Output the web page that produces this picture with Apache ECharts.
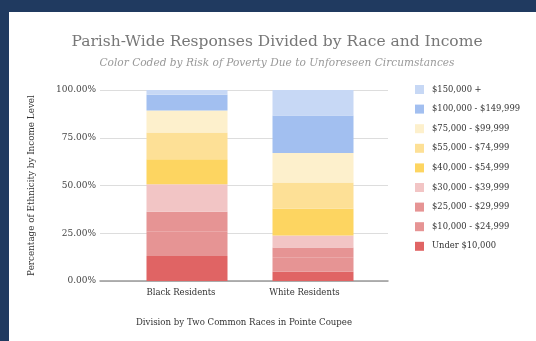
<!DOCTYPE html>
<html><head><meta charset="utf-8">
<script src="https://cdn.jsdelivr.net/npm/echarts@6/dist/echarts.min.js"></script>
<style>
html,body{margin:0;padding:0;background:#203a60;}
#panel{position:absolute;left:9px;top:12px;width:527px;height:329px;background:#fff;}
#chart{position:absolute;left:0;top:0;width:536px;height:341px;}
</style></head>
<body><div id="panel"></div><div id="chart"></div>
<script>
var categories = ['Black Residents', 'White Residents'];
var incomeLevels = ['Under $10,000', '$10,000 - $24,999', '$25,000 - $29,999', '$30,000 - $39,999', '$40,000 - $54,999', '$55,000 - $74,999', '$75,000 - $99,999', '$100,000 - $149,999', '$150,000 +'];
var blackValues = [13.1, 13.0, 10.1, 14.4, 13.2, 14.0, 11.5, 8.2, 2.5];
var whiteValues = [4.9, 7.3, 5.3, 6.3, 14.0, 13.8, 15.4, 19.6, 13.4];
var colors = ['#e06464', '#e69494', '#e69494', '#f2c5c5', '#fdd561', '#fde096', '#fdf0cc', '#a2bff0', '#c7d8f5'];
var yTicks = [0, 25, 50, 75, 100];

var serif = 'DejaVu Serif';
var chart = echarts.init(document.getElementById('chart'));
var series = incomeLevels.map(function (name, i) {
  return {
    name: name, type: 'bar', stack: 'total', xAxisIndex: 1, yAxisIndex: 1,
    barWidth: 81, itemStyle: {color: colors[i]},
    data: [blackValues[i], whiteValues[i]]
  };
});
chart.setOption({
  animation: false,
  title: {
    text: 'Parish-Wide Responses Divided by Race and Income',
    subtext: 'Color Coded by Risk of Poverty Due to Unforeseen Circumstances',
    left: 272, textAlign: 'center', top: 29, itemGap: 8,
    textStyle: {fontFamily: serif, fontSize: 15.5, fontWeight: 'normal', color: '#777'},
    subtextStyle: {fontFamily: serif, fontSize: 10.6, fontStyle: 'italic', color: '#999'}
  },
  legend: {
    orient: 'vertical', left: 415, top: 85, padding: 0, itemWidth: 9, itemHeight: 9, itemGap: 10.6,
    icon: 'rect',
    data: incomeLevels.slice().reverse(),
    textStyle: {fontFamily: serif, fontSize: 8.4, color: '#333', padding: [0, 0, 0, 3]}
  },
  grid: [
    {left: 100, right: 148, top: 90, bottom: 60},
    {left: 124, right: 160, top: 90, bottom: 60}
  ],
  xAxis: [
    {gridIndex: 0, type: 'category', data: categories,
      axisLine: {lineStyle: {color: '#999', width: 1.5}}, axisTick: {show: false}, axisLabel: {show: false},
      name: 'Division by Two Common Races in Pointe Coupee', nameLocation: 'middle', nameGap: 37,
      nameTextStyle: {fontFamily: serif, fontSize: 8.6, color: '#333'}},
    {gridIndex: 1, type: 'category', data: categories,
      axisLine: {show: false}, axisTick: {show: false},
      axisLabel: {fontFamily: serif, fontSize: 8.5, color: '#333', margin: 7,
        formatter: function (v, i) { return i === 0 ? '{a|' + v + '}' : '{b|' + v + '}'; },
        rich: {a: {fontFamily: serif, fontSize: 8.5, color: '#333', padding: [0, 12, 0, 0]},
               b: {fontFamily: serif, fontSize: 8.5, color: '#333', padding: [0, 17, 0, 0]}}}}
  ],
  yAxis: [
    {gridIndex: 0, type: 'value', min: yTicks[0], max: yTicks[yTicks.length - 1], interval: 25,
      axisLine: {show: false}, axisTick: {show: false},
      splitLine: {lineStyle: {color: '#ddd'}},
      axisLabel: {fontFamily: serif, fontSize: 9, color: '#444', margin: 4,
        formatter: function (v) { return v.toFixed(2) + '%'; }},
      name: 'Percentage of Ethnicity by Income Level', nameLocation: 'middle', nameGap: 64,
      nameTextStyle: {fontFamily: serif, fontSize: 8.8, color: '#333'}},
    {gridIndex: 1, type: 'value', min: 0, max: 100, interval: 25, show: false}
  ],
  series: series
});
</script></body></html>
